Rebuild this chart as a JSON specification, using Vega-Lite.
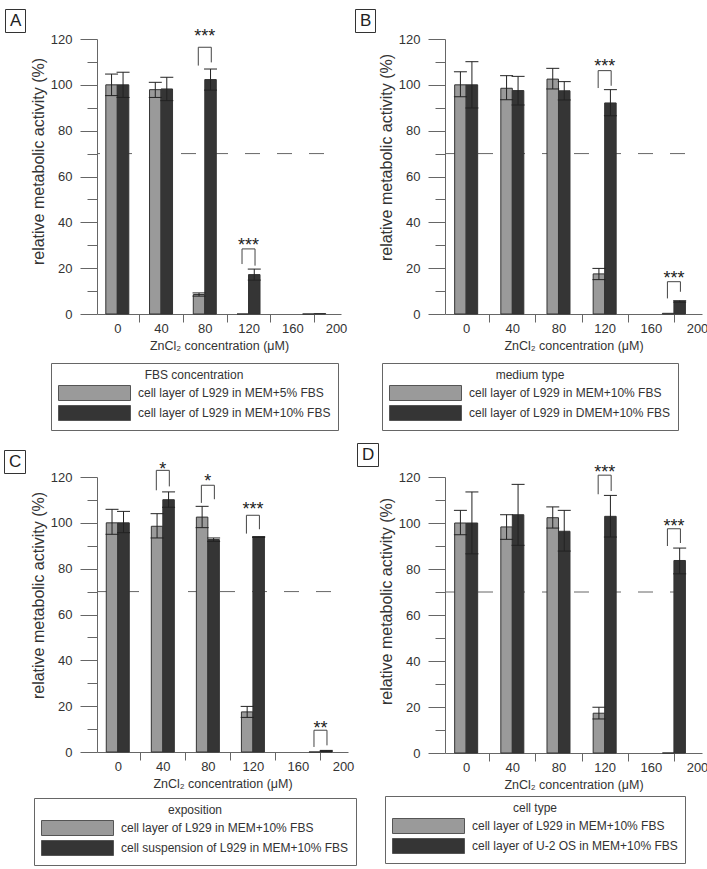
{
"$schema": "https://vega.github.io/schema/vega-lite/v6.json",
"background": "white",
"padding": {"left": 3, "top": 8, "right": 0, "bottom": 0},
"autosize": {"type": "pad"},
"datasets": {
"refA": [{"y": 70, "letter": "A"}],
"refB": [{"y": 70, "letter": "B"}],
"refC": [{"y": 70, "letter": "C"}],
"refD": [{"y": 70, "letter": "D"}],
"barsA": [
{"c": 0, "k": "g", "s": "cell layer of L929 in MEM+5% FBS", "m": 100, "lo": 95.3, "hi": 104.7},
{"c": 0, "k": "d", "s": "cell layer of L929 in MEM+10% FBS", "m": 100, "lo": 94.5, "hi": 105.5},
{"c": 40, "k": "g", "s": "cell layer of L929 in MEM+5% FBS", "m": 97.9, "lo": 94.5, "hi": 101.1},
{"c": 40, "k": "d", "s": "cell layer of L929 in MEM+10% FBS", "m": 98.2, "lo": 93.1, "hi": 103.3},
{"c": 80, "k": "g", "s": "cell layer of L929 in MEM+5% FBS", "m": 8.5, "lo": 7.8, "hi": 9.2},
{"c": 80, "k": "d", "s": "cell layer of L929 in MEM+10% FBS", "m": 102.3, "lo": 97.7, "hi": 106.9},
{"c": 120, "k": "g", "s": "cell layer of L929 in MEM+5% FBS", "m": 0, "lo": null, "hi": null},
{"c": 120, "k": "d", "s": "cell layer of L929 in MEM+10% FBS", "m": 17.2, "lo": 14.8, "hi": 19.6},
{"c": 180, "k": "g", "s": "cell layer of L929 in MEM+5% FBS", "m": 0, "lo": null, "hi": null},
{"c": 180, "k": "d", "s": "cell layer of L929 in MEM+10% FBS", "m": 0.2, "lo": null, "hi": null}
],
"barsB": [
{"c": 0, "k": "g", "s": "cell layer of L929 in MEM+10% FBS", "m": 100, "lo": 94.8, "hi": 105.7},
{"c": 0, "k": "d", "s": "cell layer of L929 in DMEM+10% FBS", "m": 100, "lo": 89.9, "hi": 110.1},
{"c": 40, "k": "g", "s": "cell layer of L929 in MEM+10% FBS", "m": 98.5, "lo": 93.5, "hi": 104},
{"c": 40, "k": "d", "s": "cell layer of L929 in DMEM+10% FBS", "m": 97.5, "lo": 91.2, "hi": 103.7},
{"c": 80, "k": "g", "s": "cell layer of L929 in MEM+10% FBS", "m": 102.5, "lo": 98.2, "hi": 107.2},
{"c": 80, "k": "d", "s": "cell layer of L929 in DMEM+10% FBS", "m": 97.4, "lo": 93.4, "hi": 101.4},
{"c": 120, "k": "g", "s": "cell layer of L929 in MEM+10% FBS", "m": 17.5, "lo": 15, "hi": 19.9},
{"c": 120, "k": "d", "s": "cell layer of L929 in DMEM+10% FBS", "m": 92.1, "lo": 86.5, "hi": 97.9},
{"c": 180, "k": "g", "s": "cell layer of L929 in MEM+10% FBS", "m": 0.3, "lo": null, "hi": null},
{"c": 180, "k": "d", "s": "cell layer of L929 in DMEM+10% FBS", "m": 5.5, "lo": 5.2, "hi": 5.8}
],
"barsC": [
{"c": 0, "k": "g", "s": "cell layer of L929 in MEM+10% FBS", "m": 100, "lo": 95, "hi": 105.9},
{"c": 0, "k": "d", "s": "cell suspension of L929 in MEM+10% FBS", "m": 100, "lo": 95.7, "hi": 105},
{"c": 40, "k": "g", "s": "cell layer of L929 in MEM+10% FBS", "m": 98.5, "lo": 93.4, "hi": 104},
{"c": 40, "k": "d", "s": "cell suspension of L929 in MEM+10% FBS", "m": 110.1, "lo": 106.8, "hi": 113.5},
{"c": 80, "k": "g", "s": "cell layer of L929 in MEM+10% FBS", "m": 102.5, "lo": 97.9, "hi": 107.2},
{"c": 80, "k": "d", "s": "cell suspension of L929 in MEM+10% FBS", "m": 92.7, "lo": 91.9, "hi": 93.4},
{"c": 120, "k": "g", "s": "cell layer of L929 in MEM+10% FBS", "m": 17.5, "lo": 15.1, "hi": 19.9},
{"c": 120, "k": "d", "s": "cell suspension of L929 in MEM+10% FBS", "m": 93.8, "lo": 93.6, "hi": 94},
{"c": 180, "k": "g", "s": "cell layer of L929 in MEM+10% FBS", "m": 0, "lo": null, "hi": null},
{"c": 180, "k": "d", "s": "cell suspension of L929 in MEM+10% FBS", "m": 0.5, "lo": 0.3, "hi": 0.7}
],
"barsD": [
{"c": 0, "k": "g", "s": "cell layer of L929 in MEM+10% FBS", "m": 100, "lo": 94.9, "hi": 105.5},
{"c": 0, "k": "d", "s": "cell layer of U-2 OS in MEM+10% FBS", "m": 100, "lo": 86.6, "hi": 113.5},
{"c": 40, "k": "g", "s": "cell layer of L929 in MEM+10% FBS", "m": 98.3, "lo": 92.9, "hi": 103.6},
{"c": 40, "k": "d", "s": "cell layer of U-2 OS in MEM+10% FBS", "m": 103.6, "lo": 90.3, "hi": 116.8},
{"c": 80, "k": "g", "s": "cell layer of L929 in MEM+10% FBS", "m": 102.3, "lo": 97.8, "hi": 107},
{"c": 80, "k": "d", "s": "cell layer of U-2 OS in MEM+10% FBS", "m": 96.4, "lo": 87.8, "hi": 105.5},
{"c": 120, "k": "g", "s": "cell layer of L929 in MEM+10% FBS", "m": 17.3, "lo": 14.8, "hi": 19.9},
{"c": 120, "k": "d", "s": "cell layer of U-2 OS in MEM+10% FBS", "m": 102.9, "lo": 93.9, "hi": 112},
{"c": 180, "k": "g", "s": "cell layer of L929 in MEM+10% FBS", "m": 0, "lo": null, "hi": null},
{"c": 180, "k": "d", "s": "cell layer of U-2 OS in MEM+10% FBS", "m": 83.7, "lo": 77.9, "hi": 89.1}
],
"brA": [
{"c": 80, "t": 116.4, "l": 108.4, "r": 109.8, "sy": 122.9, "st": "***"},
{"c": 120, "t": 28.4, "l": 21.8, "r": 21.1, "sy": 32.0, "st": "***"}
],
"brB": [
{"c": 120, "t": 106.2, "l": 98.6, "r": 99.6, "sy": 109.8, "st": "***"},
{"c": 180, "t": 14.1, "l": 6.8, "r": 9.7, "sy": 17.5, "st": "***"}
],
"brC": [
{"c": 40, "t": 122.9, "l": 114.2, "r": 115.9, "sy": 125.4, "st": "*"},
{"c": 80, "t": 116.4, "l": 108.7, "r": 110.3, "sy": 120.0, "st": "*"},
{"c": 120, "t": 103.3, "l": 95.3, "r": 97.2, "sy": 107.6, "st": "***"},
{"c": 180, "t": 9.5, "l": 2.2, "r": 2.9, "sy": 12.4, "st": "**"}
],
"brD": [
{"c": 120, "t": 120.8, "l": 112.5, "r": 113.9, "sy": 123.7, "st": "***"},
{"c": 180, "t": 97.5, "l": 90, "r": 91.3, "sy": 100.4, "st": "***"}
]
},
"columns": 2,
"align": "none",
"bounds": "flush",
"spacing": {"row": 163, "column": 97},
"resolve": {"scale": {"x": "independent", "y": "independent", "fill": "independent", "strokeDash": "independent"}, "legend": {"fill": "independent", "strokeDash": "independent"}, "axis": {"x": "independent", "y": "independent"}},
"concat": [
{
"width": 244, "height": 275,
"resolve": {"axis": {"x": "independent", "y": "independent"}},
"layer": [
{"data": {"name": "refA"}, "mark": {"type": "rule", "color": "#666", "strokeWidth": 1, "strokeDashOffset": 15},
 "encoding": {"y": {"field": "y", "type": "quantitative", "scale": {"domain": [0, 120], "nice": false}, "axis": {"orient": "left", "values": [10, 30, 50, 70, 90, 110], "tickSize": 10, "labels": false, "domain": false, "title": null}},
  "strokeDash": {"field": "letter", "type": "nominal", "scale": {"range": [[15, 17]]}, "legend": {"title": null, "orient": "none", "legendX": -92, "legendY": -30, "symbolType": "circle", "symbolOpacity": 0, "symbolSize": 1, "symbolStrokeWidth": 0, "labelOffset": -15, "labelFontSize": 17, "labelColor": "#222", "padding": 3, "strokeColor": "#333"}}}},
{"data": {"name": "barsA"}, "transform": [{"filter": "datum.k == 'g'"}],
 "mark": {"type": "bar", "width": 11.5, "xOffset": -5.75, "stroke": "#333", "strokeWidth": 1},
 "encoding": {"x": {"field": "c", "type": "quantitative", "scale": {"domain": [-14, 200], "nice": false, "zero": false}, "axis": {"orient": "bottom", "values": [0, 40, 80, 120, 160, 200], "ticks": false, "labelPadding": 8, "labelFlush": false, "title": "ZnCl₂ concentration (μM)", "titleFontSize": 12.5, "titlePadding": 4}},
  "y": {"field": "m", "type": "quantitative", "scale": {"domain": [0, 120], "nice": false}, "axis": {"orient": "left", "values": [0, 20, 40, 60, 80, 100, 120], "tickSize": 17, "labelPadding": 8, "title": "relative metabolic activity (%)", "titleFontSize": 16, "titlePadding": 4, "titleY": 122}},
  "fill": {"field": "s", "type": "nominal", "scale": {"domain": ["cell layer of L929 in MEM+5% FBS", "cell layer of L929 in MEM+10% FBS"], "range": ["#9a9a9a", "#353535"]},
   "legend": {"title": "FBS concentration", "orient": "none", "legendX": -46, "legendY": 324, "direction": "vertical", "titleAnchor": "middle", "titleAlign": "center", "titlePadding": 3, "symbolType": "M-1,-1H8.6V1H-1Z", "symbolSize": 225, "symbolStrokeColor": "#555", "symbolStrokeWidth": 1, "symbolOpacity": 1, "labelOffset": 64, "rowPadding": 0, "padding": 7, "strokeColor": "#666"}}}},
{"data": {"name": "barsA"}, "transform": [{"filter": "datum.k == 'd'"}],
 "mark": {"type": "bar", "width": 11.5, "xOffset": 5.75, "fill": "#353535", "stroke": "#333", "strokeWidth": 1},
 "encoding": {"x": {"field": "c", "type": "quantitative", "scale": {"domain": [-14, 200], "nice": false, "zero": false}, "axis": null},
  "y": {"field": "m", "type": "quantitative", "scale": {"domain": [0, 120], "nice": false}, "axis": null}}},
{"data": {"name": "barsA"}, "transform": [{"filter": "datum.k == 'g' && isValid(datum.lo)"}],
 "mark": {"type": "rule", "xOffset": -5.75, "color": "#222", "strokeWidth": 1},
 "encoding": {"x": {"field": "c", "type": "quantitative", "scale": {"domain": [-14, 200], "nice": false, "zero": false}, "axis": {"orient": "bottom", "values": [20, 60, 100, 140, 180], "tickSize": 8, "labels": false, "domain": false, "title": null}},
  "y": {"field": "lo", "type": "quantitative", "scale": {"domain": [0, 120], "nice": false}, "axis": null}, "y2": {"field": "hi"}}},
{"data": {"name": "barsA"}, "transform": [{"filter": "datum.k == 'd' && isValid(datum.lo)"}],
 "mark": {"type": "rule", "xOffset": 5.75, "color": "#222", "strokeWidth": 1},
 "encoding": {"x": {"field": "c", "type": "quantitative", "scale": {"domain": [-14, 200], "nice": false, "zero": false}, "axis": null},
  "y": {"field": "lo", "type": "quantitative", "scale": {"domain": [0, 120], "nice": false}, "axis": null}, "y2": {"field": "hi"}}},
{"data": {"name": "barsA"}, "transform": [{"filter": "datum.k == 'g' && isValid(datum.lo)"}, {"fold": ["lo", "hi"], "as": ["kk", "v"]}],
 "mark": {"type": "tick", "orient": "horizontal", "size": 13, "thickness": 1, "xOffset": -5.75, "color": "#222", "opacity": 1},
 "encoding": {"x": {"field": "c", "type": "quantitative", "scale": {"domain": [-14, 200], "nice": false, "zero": false}, "axis": null},
  "y": {"field": "v", "type": "quantitative", "scale": {"domain": [0, 120], "nice": false}, "axis": null}}},
{"data": {"name": "barsA"}, "transform": [{"filter": "datum.k == 'd' && isValid(datum.lo)"}, {"fold": ["lo", "hi"], "as": ["kk", "v"]}],
 "mark": {"type": "tick", "orient": "horizontal", "size": 13, "thickness": 1, "xOffset": 5.75, "color": "#222", "opacity": 1},
 "encoding": {"x": {"field": "c", "type": "quantitative", "scale": {"domain": [-14, 200], "nice": false, "zero": false}, "axis": null},
  "y": {"field": "v", "type": "quantitative", "scale": {"domain": [0, 120], "nice": false}, "axis": null}}},
{"data": {"name": "brA"}, "mark": {"type": "rule", "xOffset": -6.5, "x2Offset": 6.5, "color": "#444"},
 "encoding": {"x": {"field": "c", "type": "quantitative", "scale": {"domain": [-14, 200], "nice": false, "zero": false}, "axis": null}, "x2": {"field": "c"},
  "y": {"field": "t", "type": "quantitative", "scale": {"domain": [0, 120], "nice": false}, "axis": null}}},
{"data": {"name": "brA"}, "mark": {"type": "rule", "xOffset": -6.5, "color": "#444"},
 "encoding": {"x": {"field": "c", "type": "quantitative", "scale": {"domain": [-14, 200], "nice": false, "zero": false}, "axis": null},
  "y": {"field": "t", "type": "quantitative", "scale": {"domain": [0, 120], "nice": false}, "axis": null}, "y2": {"field": "l"}}},
{"data": {"name": "brA"}, "mark": {"type": "rule", "xOffset": 6.5, "color": "#444"},
 "encoding": {"x": {"field": "c", "type": "quantitative", "scale": {"domain": [-14, 200], "nice": false, "zero": false}, "axis": null},
  "y": {"field": "t", "type": "quantitative", "scale": {"domain": [0, 120], "nice": false}, "axis": null}, "y2": {"field": "r"}}},
{"data": {"name": "brA"}, "mark": {"type": "text", "fontSize": 18, "baseline": "alphabetic", "dy": 10, "color": "#222"},
 "encoding": {"x": {"field": "c", "type": "quantitative", "scale": {"domain": [-14, 200], "nice": false, "zero": false}, "axis": null},
  "y": {"field": "sy", "type": "quantitative", "scale": {"domain": [0, 120], "nice": false}, "axis": null}, "text": {"field": "st"}}}
]
},
{
"width": 257, "height": 275,
"resolve": {"axis": {"x": "independent", "y": "independent"}},
"layer": [
{"data": {"name": "refB"}, "mark": {"type": "rule", "color": "#666", "strokeWidth": 1, "strokeDashOffset": 15},
 "encoding": {"y": {"field": "y", "type": "quantitative", "scale": {"domain": [0, 120], "nice": false}, "axis": {"orient": "left", "values": [10, 30, 50, 70, 90, 110], "tickSize": 10, "labels": false, "domain": false, "title": null}},
  "strokeDash": {"field": "letter", "type": "nominal", "scale": {"range": [[15, 17]]}, "legend": {"title": null, "orient": "none", "legendX": -90, "legendY": -30, "symbolType": "circle", "symbolOpacity": 0, "symbolSize": 1, "symbolStrokeWidth": 0, "labelOffset": -15, "labelFontSize": 17, "labelColor": "#222", "padding": 3, "strokeColor": "#333"}}}},
{"data": {"name": "barsB"}, "transform": [{"filter": "datum.k == 'g'"}],
 "mark": {"type": "bar", "width": 11.5, "xOffset": -5.75, "stroke": "#333", "strokeWidth": 1},
 "encoding": {"x": {"field": "c", "type": "quantitative", "scale": {"domain": [-14, 200], "nice": false, "zero": false}, "axis": {"orient": "bottom", "values": [0, 40, 80, 120, 160, 200], "ticks": false, "labelPadding": 8, "labelFlush": false, "title": "ZnCl₂ concentration (μM)", "titleFontSize": 12.5, "titlePadding": 4}},
  "y": {"field": "m", "type": "quantitative", "scale": {"domain": [0, 120], "nice": false}, "axis": {"orient": "left", "values": [0, 20, 40, 60, 80, 100, 120], "tickSize": 17, "labelPadding": 8, "title": "relative metabolic activity (%)", "titleFontSize": 16, "titlePadding": 4, "titleY": 118}},
  "fill": {"field": "s", "type": "nominal", "scale": {"domain": ["cell layer of L929 in MEM+10% FBS", "cell layer of L929 in DMEM+10% FBS"], "range": ["#9a9a9a", "#353535"]},
   "legend": {"title": "medium type", "orient": "none", "legendX": -63, "legendY": 324, "direction": "vertical", "titleAnchor": "middle", "titleAlign": "center", "titlePadding": 3, "symbolType": "M-1,-1H8.6V1H-1Z", "symbolSize": 225, "symbolStrokeColor": "#555", "symbolStrokeWidth": 1, "symbolOpacity": 1, "labelOffset": 64, "rowPadding": 0, "padding": 7, "strokeColor": "#666"}}}},
{"data": {"name": "barsB"}, "transform": [{"filter": "datum.k == 'd'"}],
 "mark": {"type": "bar", "width": 11.5, "xOffset": 5.75, "fill": "#353535", "stroke": "#333", "strokeWidth": 1},
 "encoding": {"x": {"field": "c", "type": "quantitative", "scale": {"domain": [-14, 200], "nice": false, "zero": false}, "axis": null},
  "y": {"field": "m", "type": "quantitative", "scale": {"domain": [0, 120], "nice": false}, "axis": null}}},
{"data": {"name": "barsB"}, "transform": [{"filter": "datum.k == 'g' && isValid(datum.lo)"}],
 "mark": {"type": "rule", "xOffset": -5.75, "color": "#222", "strokeWidth": 1},
 "encoding": {"x": {"field": "c", "type": "quantitative", "scale": {"domain": [-14, 200], "nice": false, "zero": false}, "axis": {"orient": "bottom", "values": [20, 60, 100, 140, 180], "tickSize": 8, "labels": false, "domain": false, "title": null}},
  "y": {"field": "lo", "type": "quantitative", "scale": {"domain": [0, 120], "nice": false}, "axis": null}, "y2": {"field": "hi"}}},
{"data": {"name": "barsB"}, "transform": [{"filter": "datum.k == 'd' && isValid(datum.lo)"}],
 "mark": {"type": "rule", "xOffset": 5.75, "color": "#222", "strokeWidth": 1},
 "encoding": {"x": {"field": "c", "type": "quantitative", "scale": {"domain": [-14, 200], "nice": false, "zero": false}, "axis": null},
  "y": {"field": "lo", "type": "quantitative", "scale": {"domain": [0, 120], "nice": false}, "axis": null}, "y2": {"field": "hi"}}},
{"data": {"name": "barsB"}, "transform": [{"filter": "datum.k == 'g' && isValid(datum.lo)"}, {"fold": ["lo", "hi"], "as": ["kk", "v"]}],
 "mark": {"type": "tick", "orient": "horizontal", "size": 13, "thickness": 1, "xOffset": -5.75, "color": "#222", "opacity": 1},
 "encoding": {"x": {"field": "c", "type": "quantitative", "scale": {"domain": [-14, 200], "nice": false, "zero": false}, "axis": null},
  "y": {"field": "v", "type": "quantitative", "scale": {"domain": [0, 120], "nice": false}, "axis": null}}},
{"data": {"name": "barsB"}, "transform": [{"filter": "datum.k == 'd' && isValid(datum.lo)"}, {"fold": ["lo", "hi"], "as": ["kk", "v"]}],
 "mark": {"type": "tick", "orient": "horizontal", "size": 13, "thickness": 1, "xOffset": 5.75, "color": "#222", "opacity": 1},
 "encoding": {"x": {"field": "c", "type": "quantitative", "scale": {"domain": [-14, 200], "nice": false, "zero": false}, "axis": null},
  "y": {"field": "v", "type": "quantitative", "scale": {"domain": [0, 120], "nice": false}, "axis": null}}},
{"data": {"name": "brB"}, "mark": {"type": "rule", "xOffset": -6.5, "x2Offset": 6.5, "color": "#444"},
 "encoding": {"x": {"field": "c", "type": "quantitative", "scale": {"domain": [-14, 200], "nice": false, "zero": false}, "axis": null}, "x2": {"field": "c"},
  "y": {"field": "t", "type": "quantitative", "scale": {"domain": [0, 120], "nice": false}, "axis": null}}},
{"data": {"name": "brB"}, "mark": {"type": "rule", "xOffset": -6.5, "color": "#444"},
 "encoding": {"x": {"field": "c", "type": "quantitative", "scale": {"domain": [-14, 200], "nice": false, "zero": false}, "axis": null},
  "y": {"field": "t", "type": "quantitative", "scale": {"domain": [0, 120], "nice": false}, "axis": null}, "y2": {"field": "l"}}},
{"data": {"name": "brB"}, "mark": {"type": "rule", "xOffset": 6.5, "color": "#444"},
 "encoding": {"x": {"field": "c", "type": "quantitative", "scale": {"domain": [-14, 200], "nice": false, "zero": false}, "axis": null},
  "y": {"field": "t", "type": "quantitative", "scale": {"domain": [0, 120], "nice": false}, "axis": null}, "y2": {"field": "r"}}},
{"data": {"name": "brB"}, "mark": {"type": "text", "fontSize": 18, "baseline": "alphabetic", "dy": 10, "color": "#222"},
 "encoding": {"x": {"field": "c", "type": "quantitative", "scale": {"domain": [-14, 200], "nice": false, "zero": false}, "axis": null},
  "y": {"field": "sy", "type": "quantitative", "scale": {"domain": [0, 120], "nice": false}, "axis": null}, "text": {"field": "st"}}}
]
},
{
"width": 251, "height": 275,
"resolve": {"axis": {"x": "independent", "y": "independent"}},
"layer": [
{"data": {"name": "refC"}, "mark": {"type": "rule", "color": "#666", "strokeWidth": 1, "strokeDashOffset": 15},
 "encoding": {"y": {"field": "y", "type": "quantitative", "scale": {"domain": [0, 120], "nice": false}, "axis": {"orient": "left", "values": [10, 30, 50, 70, 90, 110], "tickSize": 10, "labels": false, "domain": false, "title": null}},
  "strokeDash": {"field": "letter", "type": "nominal", "scale": {"range": [[15, 17]]}, "legend": {"title": null, "orient": "none", "legendX": -93, "legendY": -27, "symbolType": "circle", "symbolOpacity": 0, "symbolSize": 1, "symbolStrokeWidth": 0, "labelOffset": -15, "labelFontSize": 17, "labelColor": "#222", "padding": 3, "strokeColor": "#333"}}}},
{"data": {"name": "barsC"}, "transform": [{"filter": "datum.k == 'g'"}],
 "mark": {"type": "bar", "width": 11.5, "xOffset": -5.75, "stroke": "#333", "strokeWidth": 1},
 "encoding": {"x": {"field": "c", "type": "quantitative", "scale": {"domain": [-14, 200], "nice": false, "zero": false}, "axis": {"orient": "bottom", "values": [0, 40, 80, 120, 160, 200], "ticks": false, "labelPadding": 8, "labelFlush": false, "title": "ZnCl₂ concentration (μM)", "titleFontSize": 12.5, "titlePadding": 4}},
  "y": {"field": "m", "type": "quantitative", "scale": {"domain": [0, 120], "nice": false}, "axis": {"orient": "left", "values": [0, 20, 40, 60, 80, 100, 120], "tickSize": 17, "labelPadding": 8, "title": "relative metabolic activity (%)", "titleFontSize": 16, "titlePadding": 4, "titleY": 118}},
  "fill": {"field": "s", "type": "nominal", "scale": {"domain": ["cell layer of L929 in MEM+10% FBS", "cell suspension of L929 in MEM+10% FBS"], "range": ["#9a9a9a", "#353535"]},
   "legend": {"title": "exposition", "orient": "none", "legendX": -63, "legendY": 321, "direction": "vertical", "titleAnchor": "middle", "titleAlign": "center", "titlePadding": 3, "symbolType": "M-1,-1H8.6V1H-1Z", "symbolSize": 225, "symbolStrokeColor": "#555", "symbolStrokeWidth": 1, "symbolOpacity": 1, "labelOffset": 64, "rowPadding": 0, "padding": 7, "strokeColor": "#666"}}}},
{"data": {"name": "barsC"}, "transform": [{"filter": "datum.k == 'd'"}],
 "mark": {"type": "bar", "width": 11.5, "xOffset": 5.75, "fill": "#353535", "stroke": "#333", "strokeWidth": 1},
 "encoding": {"x": {"field": "c", "type": "quantitative", "scale": {"domain": [-14, 200], "nice": false, "zero": false}, "axis": null},
  "y": {"field": "m", "type": "quantitative", "scale": {"domain": [0, 120], "nice": false}, "axis": null}}},
{"data": {"name": "barsC"}, "transform": [{"filter": "datum.k == 'g' && isValid(datum.lo)"}],
 "mark": {"type": "rule", "xOffset": -5.75, "color": "#222", "strokeWidth": 1},
 "encoding": {"x": {"field": "c", "type": "quantitative", "scale": {"domain": [-14, 200], "nice": false, "zero": false}, "axis": {"orient": "bottom", "values": [20, 60, 100, 140, 180], "tickSize": 8, "labels": false, "domain": false, "title": null}},
  "y": {"field": "lo", "type": "quantitative", "scale": {"domain": [0, 120], "nice": false}, "axis": null}, "y2": {"field": "hi"}}},
{"data": {"name": "barsC"}, "transform": [{"filter": "datum.k == 'd' && isValid(datum.lo)"}],
 "mark": {"type": "rule", "xOffset": 5.75, "color": "#222", "strokeWidth": 1},
 "encoding": {"x": {"field": "c", "type": "quantitative", "scale": {"domain": [-14, 200], "nice": false, "zero": false}, "axis": null},
  "y": {"field": "lo", "type": "quantitative", "scale": {"domain": [0, 120], "nice": false}, "axis": null}, "y2": {"field": "hi"}}},
{"data": {"name": "barsC"}, "transform": [{"filter": "datum.k == 'g' && isValid(datum.lo)"}, {"fold": ["lo", "hi"], "as": ["kk", "v"]}],
 "mark": {"type": "tick", "orient": "horizontal", "size": 13, "thickness": 1, "xOffset": -5.75, "color": "#222", "opacity": 1},
 "encoding": {"x": {"field": "c", "type": "quantitative", "scale": {"domain": [-14, 200], "nice": false, "zero": false}, "axis": null},
  "y": {"field": "v", "type": "quantitative", "scale": {"domain": [0, 120], "nice": false}, "axis": null}}},
{"data": {"name": "barsC"}, "transform": [{"filter": "datum.k == 'd' && isValid(datum.lo)"}, {"fold": ["lo", "hi"], "as": ["kk", "v"]}],
 "mark": {"type": "tick", "orient": "horizontal", "size": 13, "thickness": 1, "xOffset": 5.75, "color": "#222", "opacity": 1},
 "encoding": {"x": {"field": "c", "type": "quantitative", "scale": {"domain": [-14, 200], "nice": false, "zero": false}, "axis": null},
  "y": {"field": "v", "type": "quantitative", "scale": {"domain": [0, 120], "nice": false}, "axis": null}}},
{"data": {"name": "brC"}, "mark": {"type": "rule", "xOffset": -6.5, "x2Offset": 6.5, "color": "#444"},
 "encoding": {"x": {"field": "c", "type": "quantitative", "scale": {"domain": [-14, 200], "nice": false, "zero": false}, "axis": null}, "x2": {"field": "c"},
  "y": {"field": "t", "type": "quantitative", "scale": {"domain": [0, 120], "nice": false}, "axis": null}}},
{"data": {"name": "brC"}, "mark": {"type": "rule", "xOffset": -6.5, "color": "#444"},
 "encoding": {"x": {"field": "c", "type": "quantitative", "scale": {"domain": [-14, 200], "nice": false, "zero": false}, "axis": null},
  "y": {"field": "t", "type": "quantitative", "scale": {"domain": [0, 120], "nice": false}, "axis": null}, "y2": {"field": "l"}}},
{"data": {"name": "brC"}, "mark": {"type": "rule", "xOffset": 6.5, "color": "#444"},
 "encoding": {"x": {"field": "c", "type": "quantitative", "scale": {"domain": [-14, 200], "nice": false, "zero": false}, "axis": null},
  "y": {"field": "t", "type": "quantitative", "scale": {"domain": [0, 120], "nice": false}, "axis": null}, "y2": {"field": "r"}}},
{"data": {"name": "brC"}, "mark": {"type": "text", "fontSize": 18, "baseline": "alphabetic", "dy": 10, "color": "#222"},
 "encoding": {"x": {"field": "c", "type": "quantitative", "scale": {"domain": [-14, 200], "nice": false, "zero": false}, "axis": null},
  "y": {"field": "sy", "type": "quantitative", "scale": {"domain": [0, 120], "nice": false}, "axis": null}, "text": {"field": "st"}}}
]
},
{
"width": 257, "height": 276,
"resolve": {"axis": {"x": "independent", "y": "independent"}},
"layer": [
{"data": {"name": "refD"}, "mark": {"type": "rule", "color": "#666", "strokeWidth": 1, "strokeDashOffset": 15},
 "encoding": {"y": {"field": "y", "type": "quantitative", "scale": {"domain": [0, 120], "nice": false}, "axis": {"orient": "left", "values": [10, 30, 50, 70, 90, 110], "tickSize": 10, "labels": false, "domain": false, "title": null}},
  "strokeDash": {"field": "letter", "type": "nominal", "scale": {"range": [[15, 17]]}, "legend": {"title": null, "orient": "none", "legendX": -88, "legendY": -34, "symbolType": "circle", "symbolOpacity": 0, "symbolSize": 1, "symbolStrokeWidth": 0, "labelOffset": -15, "labelFontSize": 17, "labelColor": "#222", "padding": 3, "strokeColor": "#333"}}}},
{"data": {"name": "barsD"}, "transform": [{"filter": "datum.k == 'g'"}],
 "mark": {"type": "bar", "width": 11.5, "xOffset": -5.75, "stroke": "#333", "strokeWidth": 1},
 "encoding": {"x": {"field": "c", "type": "quantitative", "scale": {"domain": [-14, 200], "nice": false, "zero": false}, "axis": {"orient": "bottom", "values": [0, 40, 80, 120, 160, 200], "ticks": false, "labelPadding": 8, "labelFlush": false, "title": "ZnCl₂ concentration (μM)", "titleFontSize": 12.5, "titlePadding": 4}},
  "y": {"field": "m", "type": "quantitative", "scale": {"domain": [0, 120], "nice": false}, "axis": {"orient": "left", "values": [0, 20, 40, 60, 80, 100, 120], "tickSize": 17, "labelPadding": 8, "title": "relative metabolic activity (%)", "titleFontSize": 16, "titlePadding": 4, "titleY": 124}},
  "fill": {"field": "s", "type": "nominal", "scale": {"domain": ["cell layer of L929 in MEM+10% FBS", "cell layer of U-2 OS in MEM+10% FBS"], "range": ["#9a9a9a", "#353535"]},
   "legend": {"title": "cell type", "orient": "none", "legendX": -60, "legendY": 319, "direction": "vertical", "titleAnchor": "middle", "titleAlign": "center", "titlePadding": 3, "symbolType": "M-1,-1H8.6V1H-1Z", "symbolSize": 225, "symbolStrokeColor": "#555", "symbolStrokeWidth": 1, "symbolOpacity": 1, "labelOffset": 64, "rowPadding": 0, "padding": 7, "strokeColor": "#666"}}}},
{"data": {"name": "barsD"}, "transform": [{"filter": "datum.k == 'd'"}],
 "mark": {"type": "bar", "width": 11.5, "xOffset": 5.75, "fill": "#353535", "stroke": "#333", "strokeWidth": 1},
 "encoding": {"x": {"field": "c", "type": "quantitative", "scale": {"domain": [-14, 200], "nice": false, "zero": false}, "axis": null},
  "y": {"field": "m", "type": "quantitative", "scale": {"domain": [0, 120], "nice": false}, "axis": null}}},
{"data": {"name": "barsD"}, "transform": [{"filter": "datum.k == 'g' && isValid(datum.lo)"}],
 "mark": {"type": "rule", "xOffset": -5.75, "color": "#222", "strokeWidth": 1},
 "encoding": {"x": {"field": "c", "type": "quantitative", "scale": {"domain": [-14, 200], "nice": false, "zero": false}, "axis": {"orient": "bottom", "values": [20, 60, 100, 140, 180], "tickSize": 8, "labels": false, "domain": false, "title": null}},
  "y": {"field": "lo", "type": "quantitative", "scale": {"domain": [0, 120], "nice": false}, "axis": null}, "y2": {"field": "hi"}}},
{"data": {"name": "barsD"}, "transform": [{"filter": "datum.k == 'd' && isValid(datum.lo)"}],
 "mark": {"type": "rule", "xOffset": 5.75, "color": "#222", "strokeWidth": 1},
 "encoding": {"x": {"field": "c", "type": "quantitative", "scale": {"domain": [-14, 200], "nice": false, "zero": false}, "axis": null},
  "y": {"field": "lo", "type": "quantitative", "scale": {"domain": [0, 120], "nice": false}, "axis": null}, "y2": {"field": "hi"}}},
{"data": {"name": "barsD"}, "transform": [{"filter": "datum.k == 'g' && isValid(datum.lo)"}, {"fold": ["lo", "hi"], "as": ["kk", "v"]}],
 "mark": {"type": "tick", "orient": "horizontal", "size": 13, "thickness": 1, "xOffset": -5.75, "color": "#222", "opacity": 1},
 "encoding": {"x": {"field": "c", "type": "quantitative", "scale": {"domain": [-14, 200], "nice": false, "zero": false}, "axis": null},
  "y": {"field": "v", "type": "quantitative", "scale": {"domain": [0, 120], "nice": false}, "axis": null}}},
{"data": {"name": "barsD"}, "transform": [{"filter": "datum.k == 'd' && isValid(datum.lo)"}, {"fold": ["lo", "hi"], "as": ["kk", "v"]}],
 "mark": {"type": "tick", "orient": "horizontal", "size": 13, "thickness": 1, "xOffset": 5.75, "color": "#222", "opacity": 1},
 "encoding": {"x": {"field": "c", "type": "quantitative", "scale": {"domain": [-14, 200], "nice": false, "zero": false}, "axis": null},
  "y": {"field": "v", "type": "quantitative", "scale": {"domain": [0, 120], "nice": false}, "axis": null}}},
{"data": {"name": "brD"}, "mark": {"type": "rule", "xOffset": -6.5, "x2Offset": 6.5, "color": "#444"},
 "encoding": {"x": {"field": "c", "type": "quantitative", "scale": {"domain": [-14, 200], "nice": false, "zero": false}, "axis": null}, "x2": {"field": "c"},
  "y": {"field": "t", "type": "quantitative", "scale": {"domain": [0, 120], "nice": false}, "axis": null}}},
{"data": {"name": "brD"}, "mark": {"type": "rule", "xOffset": -6.5, "color": "#444"},
 "encoding": {"x": {"field": "c", "type": "quantitative", "scale": {"domain": [-14, 200], "nice": false, "zero": false}, "axis": null},
  "y": {"field": "t", "type": "quantitative", "scale": {"domain": [0, 120], "nice": false}, "axis": null}, "y2": {"field": "l"}}},
{"data": {"name": "brD"}, "mark": {"type": "rule", "xOffset": 6.5, "color": "#444"},
 "encoding": {"x": {"field": "c", "type": "quantitative", "scale": {"domain": [-14, 200], "nice": false, "zero": false}, "axis": null},
  "y": {"field": "t", "type": "quantitative", "scale": {"domain": [0, 120], "nice": false}, "axis": null}, "y2": {"field": "r"}}},
{"data": {"name": "brD"}, "mark": {"type": "text", "fontSize": 18, "baseline": "alphabetic", "dy": 10, "color": "#222"},
 "encoding": {"x": {"field": "c", "type": "quantitative", "scale": {"domain": [-14, 200], "nice": false, "zero": false}, "axis": null},
  "y": {"field": "sy", "type": "quantitative", "scale": {"domain": [0, 120], "nice": false}, "axis": null}, "text": {"field": "st"}}}
]
}
],
"config": {
 "font": "Liberation Sans",
 "view": {"stroke": null},
 "axis": {"grid": false, "domainColor": "#666", "tickColor": "#666", "labelColor": "#333", "titleColor": "#333", "labelFontSize": 13, "titleFontWeight": "normal", "domainWidth": 1, "tickWidth": 1},
 "legend": {"labelFontSize": 12, "titleFontSize": 12, "titleFontWeight": "normal", "labelColor": "#333", "titleColor": "#333", "labelLimit": 400}
}
}
